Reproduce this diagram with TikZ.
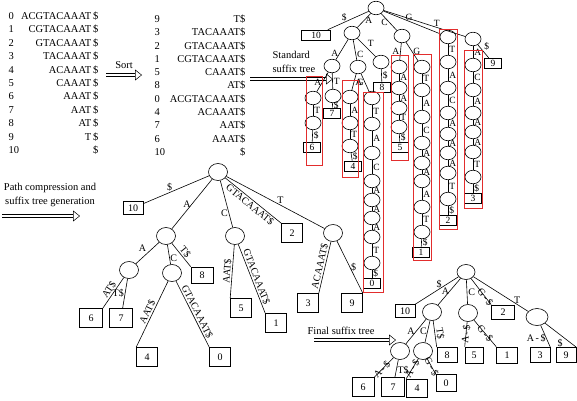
\documentclass[tikz,border=0pt]{standalone}
\usepackage{fontspec}
\setmainfont{Liberation Serif}
\usetikzlibrary{shapes.geometric,arrows.meta}

\definecolor{rojo}{RGB}{226,45,45}
\tikzset{
  nodo/.style={ellipse, draw, minimum width=16pt, minimum height=13.5pt, inner sep=0pt},
  nodo2/.style={ellipse, draw, minimum width=19pt, minimum height=17pt, inner sep=0pt},
  cajita/.style={rectangle, draw, minimum width=17pt, minimum height=10pt, inner sep=0pt, font=\fontsize{9.5}{9.5}\selectfont},
  caja/.style={rectangle, draw, minimum width=21pt, minimum height=19pt, inner sep=0pt, font=\fontsize{10}{10}\selectfont},
  lab/.style={font=\fontsize{9.5}{9.5}\selectfont, inner sep=1pt},
  lab2/.style={font=\fontsize{10}{10}\selectfont, inner sep=1pt},
  marco/.style={draw=rojo, line width=0.7pt},
  flecha/.style={double, double distance=2.8pt, line width=0.5pt, -{Triangle[open, length=7pt, width=11pt, line width=0.5pt]}},
}

\begin{document}
\begin{tikzpicture}[x=1pt, y=-1pt, line width=0.6pt, font=\fontsize{10.5}{12}\selectfont]
\useasboundingbox (0,0) rectangle (577,400);

% Sufijos
\foreach \s [count=\i from 0] in {ACGTACAAAT,CGTACAAAT,GTACAAAT,TACAAAT,ACAAAT,CAAAT,AAAT,AAT,AT,T,{}} {
  \node[anchor=west] (li\i) at (5,{16+13.4*\i}) {\i};
  \node[anchor=east] (ls\i) at (102,{16+13.4*\i}) {\s\,\$};
}

% Ordenados
\foreach \k/\s [count=\i from 0] in {9/T,3/TACAAAT,2/GTACAAAT,1/CGTACAAAT,5/CAAAT,8/AT,0/ACGTACAAAT,4/ACAAAT,7/AAT,6/AAAT,10/{}} {
  \node[anchor=west] (oi\i) at (151,{19+13.3*\i}) {\k};
  \node[anchor=east] (os\i) at (249,{19+13.3*\i}) {\s\$};
}

% Flechas
\coordinate (o1) at (106,75);
\coordinate (o2) at (142,75);
\draw[flecha] (o1) -- (o2) node[midway, above=3pt] {Sort};
\coordinate (e1) at (250,79);
\coordinate (e2) at (333,79);
\draw[flecha] (e1) -- (e2);
\node[anchor=west, align=left, font=\fontsize{10.5}{14}\selectfont] (txtEst) at (269,62) {Standard\\suffix tree};
\coordinate (p1) at (2,216);
\coordinate (p2) at (80,216);
\draw[flecha] (p1) -- (p2);
\node[align=center, font=\fontsize{10.5}{14}\selectfont] (txtComp) at (50,195) {Path compression and\\suffix tree generation};
\coordinate (q1) at (314,340);
\coordinate (q2) at (396,340);
\draw[flecha] (q1) -- (q2);
\node (txtFin) at (341,331) {Final suffix tree};

% Arbol estandar
\node[nodo] (sr) at (376,8) {};
\node[cajita, minimum width=29pt] (s10) at (316,35) {10};
\node[nodo] (sA) at (352,33) {};
\node[nodo] (sC) at (402,36) {};
\node[nodo] (sG) at (448,37) {};
\node[nodo] (sT) at (473,39) {};
\node[cajita] (s9) at (493,63) {9};
\draw (sr) -- (s10) node[pos=0.6, above, lab] {\$};
\draw (sr) -- (sA) node[midway, right, lab] {A};
\draw (sr) -- (sC) node[midway, left, lab] {C};
\draw (sr) -- (sG) node[pos=0.45, above, lab, inner sep=0pt] {G};
\draw (sr) -- (sT) node[pos=0.65, above, lab] {T};
\draw (sT) -- (s9) node[midway, above right, lab] {\$};

\node[nodo] (sAA) at (332,66) {};
\node[nodo] (sAC) at (358,67) {};
\node[nodo] (sAT) at (381,62) {};
\node[cajita] (s8) at (382,87) {8};
\draw (sA) -- (sAA) node[pos=0.7, left, lab] {A};
\draw (sA) -- (sAC) node[pos=0.7, right, lab] {C};
\draw (sA) -- (sAT) node[midway, above right, lab] {T};
\draw (sAT) -- (s8) node[midway, right, lab] {\$};

\foreach \y [count=\i] in {98,123} \node[nodo] (sAAA\i) at (313,\y) {};
\node[nodo] (sAAT) at (333,96) {};
\node[cajita] (s6) at (312,147) {6};
\node[cajita] (s7) at (332,113) {7};
\draw (sAA) -- (sAAA1) node[midway, left, lab] {A};
\draw (sAAA1) -- (sAAA2) node[midway, right, lab] {T};
\draw (sAAA2) -- (s6) node[midway, right, lab] {\$};
\draw (sAA) -- (sAAT) node[midway, right, lab] {T};
\draw (sAAT) -- (s7) node[midway, right, lab] {\$};

\foreach \y [count=\i] in {97,123,146} \node[nodo] (sACA\i) at (350,\y) {};
\node[cajita] (s4) at (353,166) {4};
\draw (sAC) -- (sACA1) node[midway, right, lab] {A};
\foreach \i/\j/\l in {1/2/A,2/3/T} \draw (sACA\i) -- (sACA\j) node[midway, right, lab] {\l};
\draw (sACA3) -- (s4) node[midway, right, lab] {\$};

\foreach \y [count=\i] in {98,124,153,181,200,218,237,263} \node[nodo] (sACG\i) at (372,\y) {};
\node[cajita] (s0) at (372,283) {0};
\draw (sAC) -- (sACG1) node[midway, left, lab] {G};
\foreach \i/\j/\l in {1/2/T,2/3/A,3/4/C,4/5/A,5/6/A,6/7/A,7/8/T} \draw (sACG\i) -- (sACG\j) node[midway, right, lab] {\l};
\draw (sACG8) -- (s0) node[midway, right, lab] {\$};

\foreach \y [count=\i] in {67,88,108,127} \node[nodo] (sCA\i) at (399,\y) {};
\node[cajita] (s5) at (400,147) {5};
\draw (sC) -- (sCA1) node[midway, left, lab] {A};
\foreach \i/\j/\l in {1/2/A,2/3/A,3/4/T} \draw (sCA\i) -- (sCA\j) node[midway, right, lab] {\l};
\draw (sCA4) -- (s5) node[midway, right, lab] {\$};

\foreach \y [count=\i] in {67,90,117,143,163,181,207,232} \node[nodo] (sCG\i) at (422,\y) {};
\node[cajita] (s1) at (421,252) {1};
\draw (sC) -- (sCG1) node[midway, right, lab] {G};
\foreach \i/\j/\l in {1/2/T,2/3/A,3/4/C,4/5/A,5/6/A,6/7/A,7/8/T} \draw (sCG\i) -- (sCG\j) node[midway, right, lab] {\l};
\draw (sCG8) -- (s1) node[midway, right, lab] {\$};

\foreach \y [count=\i] in {62,88,113,134,153,173,199} \node[nodo] (sG\i) at (448,\y) {};
\node[cajita] (s2) at (448,220) {2};
\draw (sG) -- (sG1) node[midway, right, lab] {T};
\foreach \i/\j/\l in {1/2/A,2/3/C,3/4/A,4/5/A,5/6/A,6/7/T} \draw (sG\i) -- (sG\j) node[midway, right, lab] {\l};
\draw (sG7) -- (s2) node[midway, right, lab] {\$};

\foreach \y [count=\i] in {65,90,113,132,152,177} \node[nodo] (sTA\i) at (473,\y) {};
\node[cajita] (s3) at (473,198) {3};
\draw (sT) -- (sTA1) node[midway, right, lab] {A};
\foreach \i/\j/\l in {1/2/C,2/3/A,3/4/A,4/5/A,5/6/T} \draw (sTA\i) -- (sTA\j) node[midway, right, lab] {\l};
\draw (sTA6) -- (s3) node[midway, right, lab] {\$};

% Marcos rojos
\draw[marco] (306,76) rectangle (322,165);
\draw[marco] (342,80) rectangle (358,177);
\draw[marco] (363,92) rectangle (383,292);
\draw[marco] (391,55) rectangle (408,160);
\draw[marco] (413,54) rectangle (431,260);
\draw[marco] (439,29) rectangle (457,229);
\draw[marco] (464,50) rectangle (482,208);

% Arbol comprimido
\node[nodo2] (cr) at (218,172) {};
\node[caja, minimum width=20pt, minimum height=13pt] (c10) at (133,208) {10};
\node[nodo2] (cA) at (166,236) {};
\node[nodo2] (cC) at (235,236) {};
\node[caja] (c2) at (292,233) {2};
\node[nodo2] (cT) at (333,233) {};
\node[nodo2] (cAA) at (129,270) {};
\node[nodo2] (cAC) at (172,273) {};
\node[caja, minimum width=22pt, minimum height=16pt] (c8) at (202,275) {8};
\node[caja, minimum width=23pt] (c6) at (91,318) {6};
\node[caja, minimum width=23pt] (c7) at (121,318) {7};
\node[caja] (c4) at (147,357) {4};
\node[caja] (c0) at (220,357) {0};
\node[caja] (c5) at (241,308) {5};
\node[caja] (c1) at (276,323) {1};
\node[caja] (c3) at (308,303) {3};
\node[caja] (c9) at (352,303) {9};
\draw (cr) -- (c10) node[pos=0.6, above, lab2] {\$};
\draw (cr) -- (cA) node[midway, left, lab2] {A};
\draw (cr) -- (cC) node[pos=0.7, left, lab2] {C};
\draw (cr) -- (c2.north west) node[midway, sloped, below, lab2] {GTACAAAT\$};
\draw (cr) -- (cT) node[pos=0.55, above, lab2] {T};
\draw (cA) -- (cAA) node[midway, above left, lab2] {A};
\draw (cA) -- (cAC) node[pos=0.7, right, lab2, inner sep=0.5pt] {C};
\draw (cA) -- (c8.north west) node[midway, sloped, above, lab2] {T\$};
\draw (cAA) -- (c6.north east) node[midway, sloped, above, lab2] {AT\$};
\draw (cAA) -- (c7) node[midway, left, lab2] {T\$};
\draw (cAC) -- (c4.north west) node[midway, sloped, above, lab2] {AAT\$};
\draw (cAC) -- (c0.north west) node[midway, sloped, above, lab2] {GTACAAAT\$};
\draw (cC) -- (c5.north west) node[midway, sloped, above, lab2] {AAT\$};
\draw (cC) -- (c1.north west) node[midway, sloped, above, lab2] {GTACAAAT\$};
\draw (cT) -- (c3.north east) node[midway, sloped, above, lab2] {ACAAAT\$};
\draw (cT) -- (c9.north east) node[midway, right, lab2] {\$};

% Arbol final
\node[nodo2, minimum width=18pt, minimum height=15pt] (fr) at (466,272) {};
\node[caja, minimum width=20pt, minimum height=13pt] (f10) at (405,311) {10};
\node[nodo2] (fA) at (432,312) {};
\node[nodo2] (fC) at (468,313) {};
\node[caja, minimum width=23pt, minimum height=14pt] (f2) at (503,312) {2};
\node[nodo2, minimum width=22pt] (fT) at (537,317) {};
\node[nodo2] (fAA) at (400,351) {};
\node[nodo2] (fAC) at (423,351) {};
\node[caja, minimum width=20pt, minimum height=15pt] (f8) at (447,355) {8};
\node[caja, minimum width=22pt] (f6) at (363,387) {6};
\node[caja, minimum width=23pt] (f7) at (393,387) {7};
\node[caja, minimum height=18pt] (f4) at (417,388) {4};
\node[caja, minimum width=20pt, minimum height=17pt] (f0) at (446,383) {0};
\node[caja, minimum width=18pt, minimum height=16pt] (f5) at (474,355) {5};
\node[caja, minimum height=16pt] (f1) at (507,355) {1};
\node[caja, minimum width=20pt, minimum height=15pt] (f3) at (540,355) {3};
\node[caja, minimum width=20pt, minimum height=15pt] (f9) at (566,355) {9};
\draw (fr) -- (f10.north east) node[pos=0.45, above, lab2] {\$};
\draw (fr) -- (fA) node[midway, left, lab2, inner sep=0pt] {A};
\draw (fr) -- (fC) node[midway, right, lab2] {C};
\draw (fr) -- (f2.north west) node[pos=0.7, sloped, lab2, inner sep=0pt] {G\,-\,\$};
\draw (fr) -- (fT) node[pos=0.8, above, lab2] {T};
\draw (fA) -- (fAA) node[midway, left, lab2] {A};
\draw (fA) -- (fAC) node[midway, left, lab2, inner sep=0.5pt] {C};
\draw (fA) -- (f8.north west) node[midway, sloped, above, lab2] {T\$};
\draw (fAA) -- (f6.north east) node[pos=0.6, sloped, lab2, inner sep=0pt] {A\,-\,\$};
\draw (fAA) -- (f7) node[pos=0.6, right, lab2] {T\$};
\draw (fAC) -- (f4.north west) node[midway, sloped, lab2, inner sep=0pt] {A\,-\,\$};
\draw (fAC) -- (f0.north west) node[midway, sloped, lab2, inner sep=0pt] {G\,-\,\$};
\draw (fC) -- (f5.north west) node[midway, sloped, lab2, inner sep=0pt] {A\,-\,\$};
\draw (fC) -- (f1.north west) node[midway, sloped, lab2, inner sep=0pt] {G\,-\,\$};
\draw (fT) -- (f3.north east) node[pos=0.6, left, lab2, inner sep=0.5pt] {A\,-\,\$};
\draw (fT) -- (f9.north east) node[pos=0.6, below left, lab2] {\$};
\end{tikzpicture}
\end{document}
